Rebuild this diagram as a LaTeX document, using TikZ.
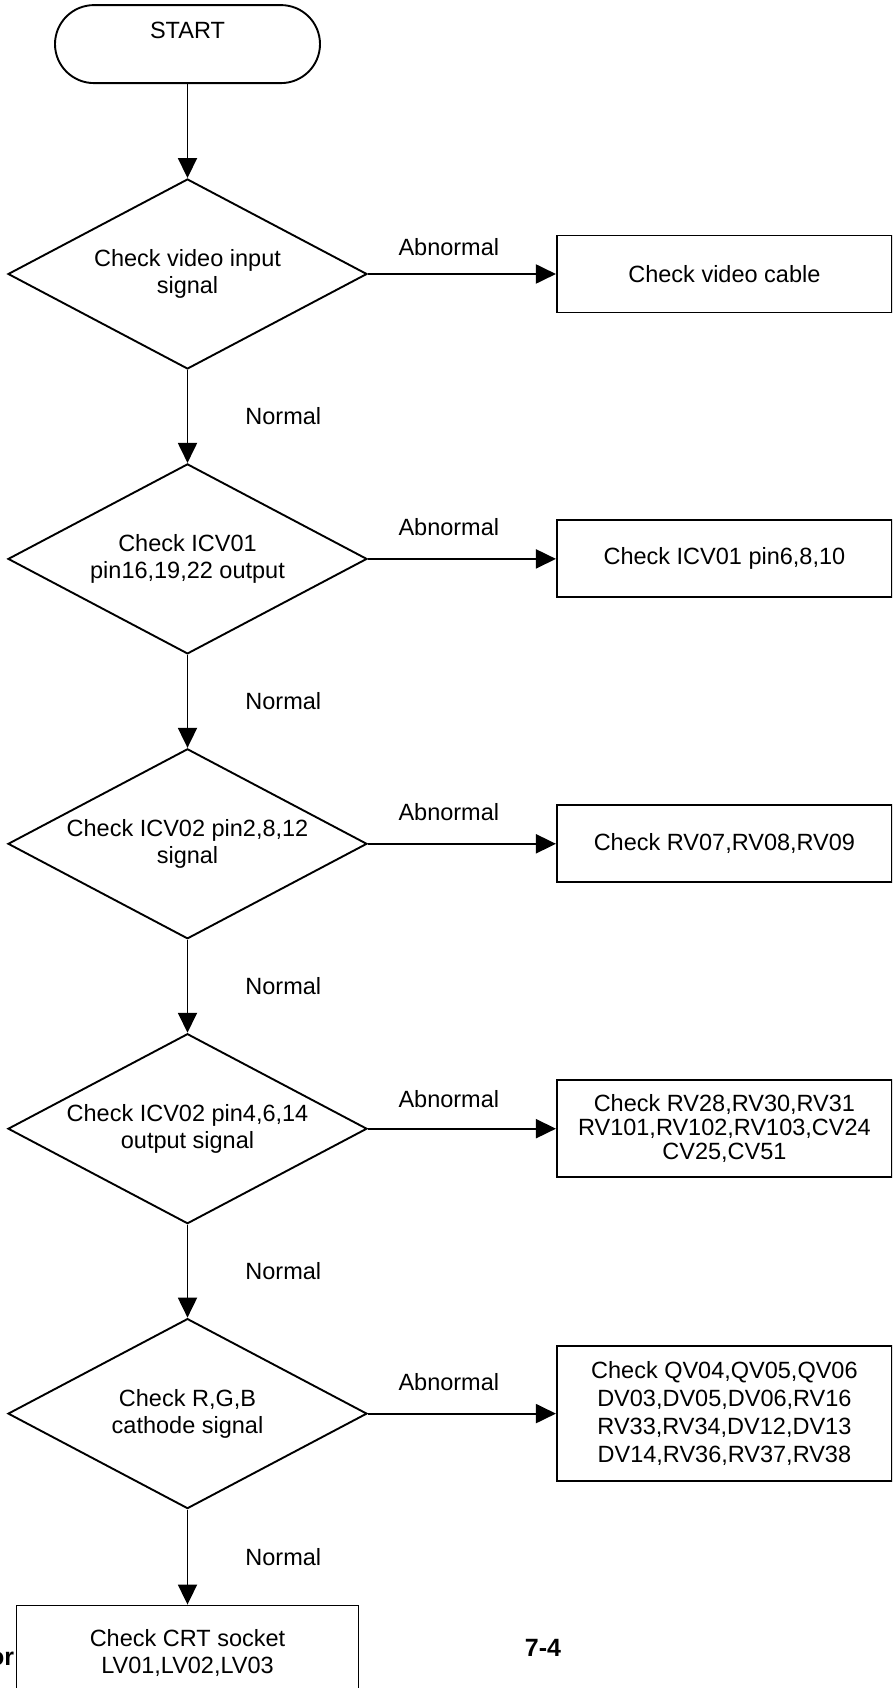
\documentclass[tikz,border=0pt]{standalone}
\usepackage{fontspec}
\setmainfont{Liberation Sans}
\usetikzlibrary{shapes.geometric,arrows.meta,positioning}
\definecolor{ink}{HTML}{000000}

\begin{document}
\begin{tikzpicture}[
  font=\fontsize{23.5pt}{27pt}\selectfont, color=ink, line width=1.9pt,
  node distance=93pt and 188pt,
  term/.style={rectangle, draw, rounded corners=39pt, minimum width=265pt,
               inner sep=0pt, text height=33.5pt, text depth=44.5pt},
  decide/.style={diamond, draw, aspect=1.88, minimum width=359pt, minimum height=190pt,
                 inner sep=0pt, align=center},
  check/.style={rectangle, draw, minimum width=335pt, minimum height=77pt,
                inner sep=0pt, align=center},
  flow/.style={-{Triangle[length=20pt, width=19pt]}},
  lbl/.style={inner sep=0pt},
  pagefont/.style={font=\bfseries\fontsize{25pt}{30pt}\selectfont},
]
\useasboundingbox (0,0) rectangle (892pt,-1688pt);
\clip (0,0) rectangle (892pt,-1688pt);

% ---- decisions down the left column ----
\node[decide] (d1) at (187.5pt,-274pt) {Check video input\\signal};
\node[term] (start) [above=94pt of d1] {START};
\node[decide] (d2) [below=of d1] {Check ICV01\\pin16,19,22 output};
\node[decide] (d3) [below=of d2] {Check ICV02 pin2,8,12\\signal};
\node[decide] (d4) [below=of d3] {Check ICV02 pin4,6,14\\output signal};
\node[decide] (d5) [below=of d4] {Check R,G,B\\cathode signal};
\node[check, minimum width=342pt, minimum height=95pt] (crt) [below=95pt of d5]
  {Check CRT socket\\LV01,LV02,LV03};

% ---- things to check when abnormal ----
\node[check] (c1) [right=of d1] {Check video cable};
\node[check] (c2) [right=of d2] {Check ICV01 pin6,8,10};
\node[check] (c3) [right=of d3] {Check RV07,RV08,RV09};
\node[check, minimum height=97pt, font=\fontsize{23.5pt}{24pt}\selectfont] (c4) [right=of d4]
  {Check RV28,RV30,RV31\\RV101,RV102,RV103,CV24\\CV25,CV51};
\node[check, minimum height=135pt, font=\fontsize{23.5pt}{28pt}\selectfont] (c5) [right=of d5]
  {Check QV04,QV05,QV06\\DV03,DV05,DV06,RV16\\RV33,RV34,DV12,DV13\\DV14,RV36,RV37,RV38};

% ---- normal path ----
\draw[flow] (start) -- (d1);
\draw[flow] (d1) -- node[lbl, right=57pt] {Normal} (d2);
\draw[flow] (d2) -- node[lbl, right=57pt] {Normal} (d3);
\draw[flow] (d3) -- node[lbl, right=57pt] {Normal} (d4);
\draw[flow] (d4) -- node[lbl, right=57pt] {Normal} (d5);
\draw[flow] (d5) -- node[lbl, right=57pt] {Normal} (crt);

% ---- abnormal branches ----
\draw[flow] (d1) -- node[lbl, pos=0.43, above=17pt] {Abnormal} (c1);
\draw[flow] (d2) -- node[lbl, pos=0.43, above=22pt] {Abnormal} (c2);
\draw[flow] (d3) -- node[lbl, pos=0.43, above=22pt] {Abnormal} (c3);
\draw[flow] (d4) -- node[lbl, pos=0.43, above=20pt] {Abnormal} (c4);
\draw[flow] (d5) -- node[lbl, pos=0.43, above=22pt] {Abnormal} (c5);

% ---- page footer ----
\node[pagefont] (pagenum) at (543pt,-1648pt) {7-4};
\node[pagefont, anchor=base east, inner sep=0pt] (cutoff) at (15pt,-1665pt) {or};
\end{tikzpicture}
\end{document}
